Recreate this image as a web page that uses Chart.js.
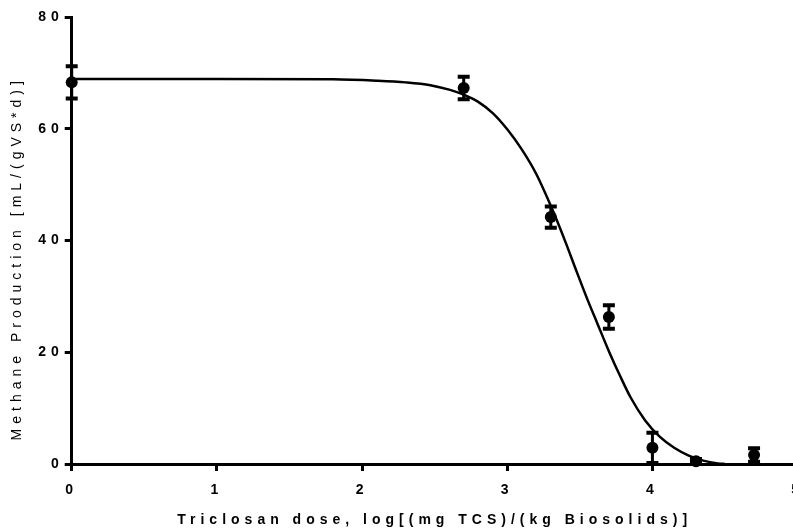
<!DOCTYPE html>
<html>
<head>
<meta charset="utf-8">
<script src="https://cdn.jsdelivr.net/npm/chart.js@4.4.0/dist/chart.umd.min.js"></script>
<style>
  html, body { margin: 0; padding: 0; background: #fff; overflow: hidden; }
  #chart { display: block; }
</style>
</head>
<body>
<canvas id="chart" width="815" height="529"></canvas>
<script>
// measured doses and methane production (mean +/- error)
const doses = [0, 2.7, 3.3, 3.7, 4.0, 4.3, 4.7];
const methane = [68.3, 67.3, 44.2, 26.3, 2.9, 0.5, 1.6];
const errors = [2.9, 2.0, 1.9, 2.1, 2.7, 0.4, 1.2];

const fitDoses = [0, 1.0, 1.8, 2.1, 2.3, 2.47, 2.6, 2.7, 2.8, 2.9, 3.0, 3.1, 3.2, 3.3, 3.4, 3.48, 3.55, 3.62, 3.7, 3.78, 3.85, 3.95, 4.05, 4.15, 4.25, 4.35, 4.45, 4.5];
const fitValues = [68.9, 68.9, 68.85, 68.6, 68.3, 67.8, 67.0, 66.1, 64.8, 62.8, 59.9, 56.3, 51.9, 46.2, 39.8, 34.3, 29.6, 25.2, 20.2, 15.6, 11.9, 7.8, 4.9, 2.9, 1.5, 0.6, 0.1, 0];

const xTicks = [0, 1, 2, 3, 4, 5];
const yTicks = [0, 20, 40, 60, 80];

const FONT = "'Liberation Sans', Arial, sans-serif";

// wide canvas letter spacing, set before measuring and before drawing
const spacing = {
    id: 'spacing',
    beforeLayout(chart) { chart.ctx.letterSpacing = '5px'; },
    beforeDraw(chart) { chart.ctx.letterSpacing = '5px'; }
};

// vertical error bars with caps
const errorBars = {
    id: 'errorBars',
    afterDatasetsDraw(chart) {
        const ctx = chart.ctx;
        const x = chart.scales.x;
        const y = chart.scales.y;
        ctx.save();
        ctx.strokeStyle = '#000';
        doses.forEach((d, i) => {
            const px = x.getPixelForValue(d);
            const top = y.getPixelForValue(methane[i] + errors[i]);
            const bot = y.getPixelForValue(methane[i] - errors[i]);
            ctx.lineWidth = 3;
            ctx.beginPath();
            ctx.moveTo(px, top);
            ctx.lineTo(px, bot);
            ctx.stroke();
            ctx.lineWidth = 4;
            ctx.beginPath();
            ctx.moveTo(px - 6, top);
            ctx.lineTo(px + 6, top);
            ctx.moveTo(px - 6, bot);
            ctx.lineTo(px + 6, bot);
            ctx.stroke();
        });
        ctx.restore();
    }
};

new Chart(document.getElementById('chart'), {
    type: 'scatter',
    data: {
        datasets: [
            {
                data: fitDoses.map((d, i) => ({ x: d, y: fitValues[i] })),
                showLine: true,
                borderColor: '#000',
                borderWidth: 2.5,
                pointRadius: 0,
                cubicInterpolationMode: 'monotone',
                clip: false
            },
            {
                data: doses.map((d, i) => ({ x: d, y: methane[i] })),
                showLine: false,
                pointRadius: 6,
                pointBackgroundColor: '#000',
                pointBorderColor: '#000',
                pointBorderWidth: 0,
                clip: false
            }
        ]
    },
    options: {
        responsive: false,
        animation: false,
        layout: { padding: { top: 17, right: 0, bottom: 0, left: 0 } },
        plugins: { legend: { display: false }, tooltip: { enabled: false } },
        scales: {
            x: {
                type: 'linear',
                min: 0,
                max: 5,
                afterBuildTicks(scale) { scale.ticks = xTicks.map(v => ({ value: v })); },
                afterFit(scale) { scale.height = 65; },
                border: { display: true, color: '#000', width: 3 },
                grid: { drawOnChartArea: false, drawTicks: true, tickLength: 7, tickWidth: 3, tickColor: '#000' },
                ticks: { color: '#000', padding: 11, maxRotation: 0, font: { family: FONT, size: 14, weight: 'bold' } },
                title: {
                    display: true,
                    text: 'Triclosan dose, log[(mg TCS)/(kg Biosolids)]',
                    color: '#000',
                    padding: { top: 0, bottom: 0 },
                    font: { family: FONT, size: 14, weight: 'bold' }
                }
            },
            y: {
                min: 0,
                max: 80,
                afterBuildTicks(scale) { scale.ticks = yTicks.map(v => ({ value: v })); },
                afterFit(scale) { scale.width = 71.7; },
                border: { display: true, color: '#000', width: 3 },
                grid: { drawOnChartArea: false, drawTicks: true, tickLength: 7, tickWidth: 3, tickColor: '#000' },
                ticks: { color: '#000', padding: 1, font: { family: FONT, size: 14, weight: 'bold' } },
                title: {
                    display: true,
                    text: 'Methane Production [mL/(gVS*d)]    ',
                    color: '#000',
                    padding: { top: 9, bottom: 0 },
                    font: { family: FONT, size: 14 }
                }
            }
        }
    },
    plugins: [spacing, errorBars]
});
</script>
</body>
</html>
